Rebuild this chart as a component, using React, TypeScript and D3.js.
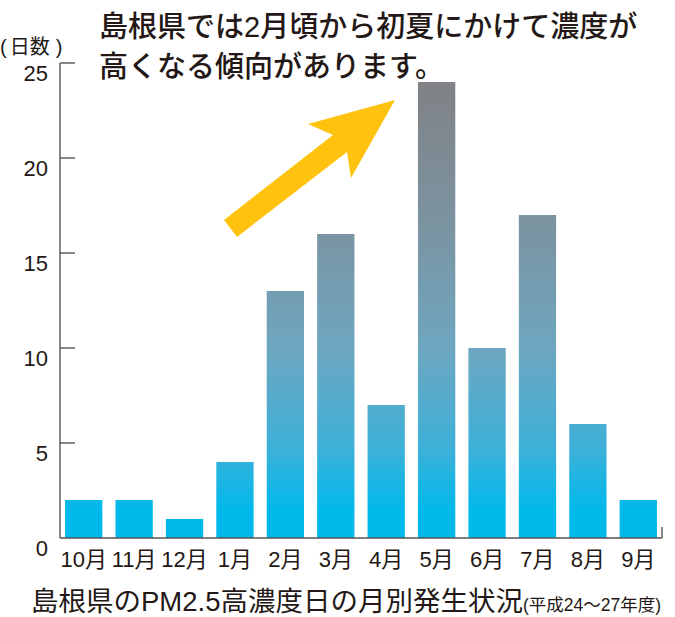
import * as d3 from "d3";

// 月別の高濃度日数（平成24〜27年度）
const months = ["10月", "11月", "12月", "1月", "2月", "3月", "4月", "5月", "6月", "7月", "8月", "9月"];
const days = [2, 2, 1, 4, 13, 16, 7, 24, 10, 17, 6, 2];
const yTicks = [0, 5, 10, 15, 20, 25];

const W = 675;
const H = 617;
const INK = "#231815";
const FONT = "'Liberation Sans', 'Noto Sans CJK JP', sans-serif";

export default function App() {
  const x = d3.scaleBand<string>().domain(months).range([60, 662]).paddingInner(0.26).paddingOuter(0.1);
  const y = d3.scaleLinear().domain([0, 25]).range([538, 63]);

  // arrow shape (annotation)
  const arrow = [
    [224, 220],
    [333, 135],
    [308, 124],
    [395, 100],
    [351, 178],
    [347, 152],
    [237, 237],
  ];

  return (
    <svg
      width={W}
      height={H}
      style={{ position: "absolute", left: 0, top: 0, background: "#fff" }}
      fontFamily={FONT}
    >
      <defs>
        <linearGradient id="barGrad" gradientUnits="userSpaceOnUse" x1={0} x2={0} y1={y(0)} y2={y(24)}>
          <stop offset="0" stopColor="#00b9eb" />
          <stop offset="0.06" stopColor="#00b9eb" />
          <stop offset="0.2" stopColor="#3fb0d8" />
          <stop offset="0.42" stopColor="#6ea6bf" />
          <stop offset="0.68" stopColor="#7b94a2" />
          <stop offset="1" stopColor="#808285" />
        </linearGradient>
      </defs>

      {/* bars */}
      {months.map((m, i) => (
        <rect
          key={m}
          x={x(m)}
          y={y(days[i])}
          width={x.bandwidth()}
          height={y(0) - y(days[i])}
          fill="url(#barGrad)"
        />
      ))}

      {/* y axis */}
      <g stroke="#555" strokeWidth={1.4} fill="none">
        <line x1={60} x2={60} y1={y(25)} y2={y(0)} />
        {yTicks.slice(1).map((t) => (
          <line key={t} x1={60} x2={75} y1={y(t)} y2={y(t)} />
        ))}
        <line x1={60} x2={662} y1={y(0)} y2={y(0)} />
        <line x1={662} x2={662} y1={y(0)} y2={y(0) - 11} />
      </g>
      {yTicks.map((t) => (
        <text key={t} x={48} y={y(t) + 18} textAnchor="end" fontSize={22} fill={INK}>
          {t}
        </text>
      ))}
      <text x={0} y={54} fontSize={20} fill={INK}>
        (<tspan dx={3}>日数</tspan>
        <tspan dx={6}>)</tspan>
      </text>

      {/* month labels */}
      {months.map((m) => (
        <text key={m} x={(x(m) ?? 0) + x.bandwidth() / 2} y={567} textAnchor="middle" fontSize={22} fill={INK}>
          {m}
        </text>
      ))}

      {/* title */}
      <text x={31} y={611} fontSize={27.5} fill={INK}>
        島根県のPM2.5高濃度日の月別発生状況
        <tspan fontSize={17.5}>(平成24〜27年度)</tspan>
      </text>

      {/* annotation */}
      <text x={99} y={37} fontSize={29} fontWeight={500} fill={INK}>
        島根県では2月頃から初夏にかけて濃度が
      </text>
      <text x={99} y={77} fontSize={29} fontWeight={500} fill={INK}>
        高くなる傾向があります。
      </text>
      <polygon points={arrow.map((p) => p.join(",")).join(" ")} fill="#ffc20e" />
    </svg>
  );
}
